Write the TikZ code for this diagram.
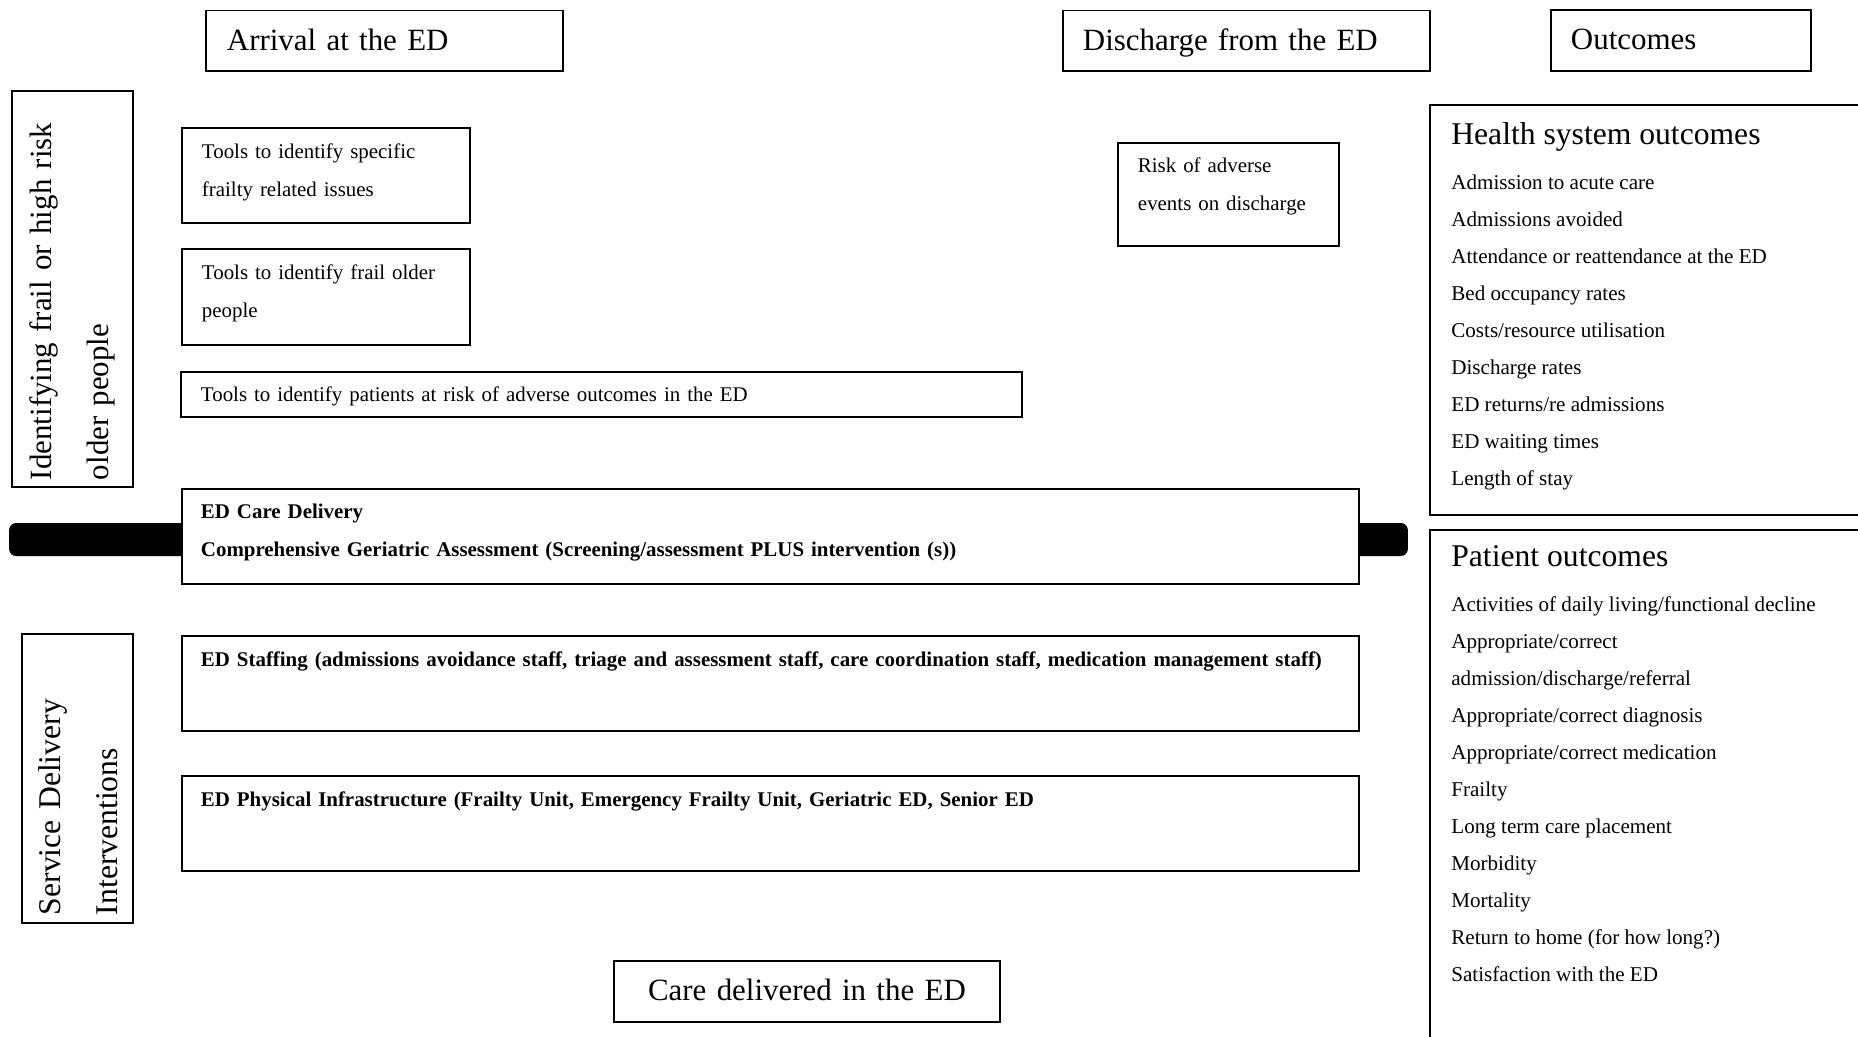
\documentclass[tikz,border=0pt]{standalone}
\usepackage{fontspec}
\setmainfont{Liberation Serif}

\tikzset{
	title/.style={draw, line width=1.1pt, anchor=north west, align=left, inner ysep=0pt, text height=0.8cm, text depth=0.42cm, font=\fontsize{17.6}{27}\selectfont},
	tool/.style={draw, line width=1.1pt, fill=white, anchor=north west, align=left, inner xsep=0.4cm, inner ysep=0pt, font=\fontsize{11.9}{21.5}\selectfont},
	edbox/.style={tool, inner xsep=0.38cm, text width=22.78cm, text height=0.6cm, text depth=1.3cm, font=\fontsize{11.9}{21.5}\selectfont\bfseries},
	side/.style={draw, line width=1.1pt, rotate=90, anchor=north west, align=left, inner ysep=0pt, font=\fontsize{18}{32}\selectfont},
	panel/.style={draw, line width=1.1pt, anchor=north west},
	head/.style={anchor=base west, inner sep=0pt, font=\fontsize{18}{21}\selectfont},
	item/.style={anchor=base west, inner sep=0pt, font=\fontsize{12}{21}\selectfont},
}

\begin{document}
\begin{tikzpicture}[x=0.02cm,y=-0.02cm]
	\useasboundingbox (0,0) rectangle (1858,1036);
	\clip (0,0) rectangle (1858,1036);

	\node[title, text width=6.3cm, inner xsep=0.42cm] (arrival) at (205,9.5) {Arrival at the ED};
	\node[title, text width=6.54cm, inner xsep=0.4cm] (discharge) at (1062,9.5) {Discharge from the ED};
	\node[title, text width=4.4cm, inner xsep=0.4cm] (outcomes) at (1550,9) {Outcomes};

	\node[side, text width=7.64cm, inner xsep=0.14cm, text height=0.8cm, text depth=1.62cm, font=\fontsize{17.6}{32}\selectfont] (identify) at (11,488) {Identifying frail or high risk\\older people};
	\node[side, text width=5.46cm, inner xsep=0.16cm, text height=0.78cm, text depth=1.44cm] (service) at (21,924) {Service Delivery\\Interventions};

	\node[tool, text width=4.96cm, text height=0.62cm, text depth=1.28cm] (specific) at (181,127) {Tools to identify specific\\frailty related issues};
	\node[tool, text width=4.96cm, text height=0.62cm, text depth=1.3cm] (frail) at (181,248) {Tools to identify frail older\\people};
	\node[tool, text width=16.02cm, text height=0.6cm, text depth=0.3cm] (adverse) at (180,371) {Tools to identify patients at risk of adverse outcomes in the ED};
	\node[tool, text width=3.62cm, text height=0.6cm, text depth=1.46cm] (riskdis) at (1117,142) {Risk of adverse\\events on discharge};

	\node[fill, rounded corners=0.14cm, minimum width=27.98cm, minimum height=0.66cm, inner sep=0pt] (bar) at (708.5,539.5) {};
	\node[edbox] (care) at (181,488) {ED Care Delivery\\Comprehensive Geriatric Assessment (Screening/assessment PLUS intervention (s))};
	\node[edbox, text height=0.62cm, text depth=1.28cm] (staffing) at (181,635) {ED Staffing (admissions avoidance staff, triage and assessment staff, care coordination staff, medication management staff)};
	\node[edbox, text height=0.62cm, text depth=1.28cm] (infra) at (181,775) {ED Physical Infrastructure (Frailty Unit, Emergency Frailty Unit, Geriatric ED, Senior ED};

	\node[title, text width=6.92cm, inner xsep=0.4cm, align=center] (delivered) at (613,960) {Care delivered in the ED};

	\node[panel, minimum width=9.5cm, minimum height=8.2cm] (healthpanel) at (1429,104) {};
	\node[head] (healthhead) at (1451,144) {Health system outcomes};
	\foreach \txt [count=\i] in {Admission to acute care, Admissions avoided, Attendance or reattendance at the ED, Bed occupancy rates, Costs/resource utilisation, Discharge rates, ED returns/re admissions, ED waiting times, Length of stay}
		\node[item] (health\i) at (1451,{152+37*\i}) {\txt};

	\node[panel, minimum width=9.5cm, minimum height=12cm] (patientpanel) at (1429,529) {};
	\node[head] (patienthead) at (1451,566) {Patient outcomes};
	\foreach \txt [count=\i] in {Activities of daily living/functional decline, Appropriate/correct, admission/discharge/referral, Appropriate/correct diagnosis, Appropriate/correct medication, Frailty, Long term care placement, Morbidity, Mortality, Return to home (for how long?), Satisfaction with the ED}
		\node[item] (patient\i) at (1451,{574+37*\i}) {\txt};
\end{tikzpicture}
\end{document}
